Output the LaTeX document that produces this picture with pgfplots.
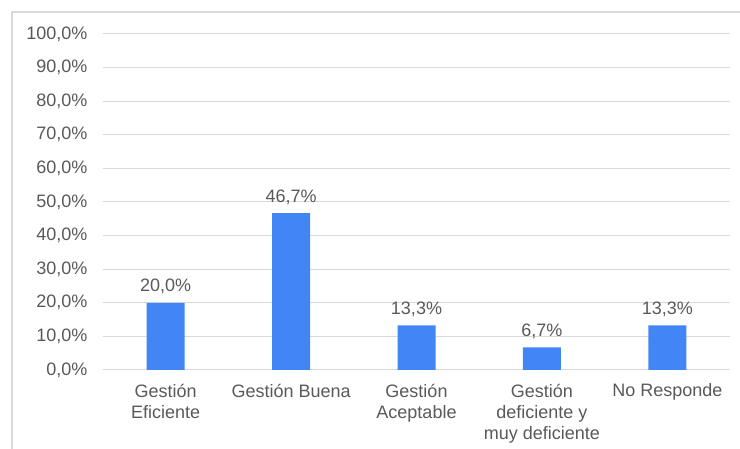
\documentclass[border=0pt]{standalone}
\usepackage{pgfplots}
\pgfplotsset{compat=1.18}
\usepackage{fontspec}
\setmainfont{Liberation Sans}
\definecolor{barblue}{HTML}{4285F4}
\definecolor{txtgray}{HTML}{595959}
\definecolor{gridgray}{HTML}{D9D9D9}
\begin{document}
\begin{tikzpicture}[x=1pt,y=1pt]
\path[use as bounding box] (0,0) rectangle (740,449);
\draw[gridgray, line width=1.5pt] (12,0) -- (12,437) -- (740,437);
\begin{axis}[
  at={(103pt,79pt)}, anchor=south west,
  scale only axis,
  width=627pt, height=336pt,
  xmin=-0.5, xmax=4.5,
  ymin=0, ymax=100,
  ytick={0,10,...,100},
  xtick={0,1,2,3,4},
  xticklabels={{Gestión\\Eficiente},{Gestión Buena},{Gestión\\Aceptable},{Gestión\\deficiente y\\muy deficiente},{No Responde}},
  axis line style={draw=none},
  major tick style={draw=none},
  ymajorgrids,
  grid style={gridgray, line width=1pt},
  /pgf/number format/assume math mode=true,
  yticklabel={\pgfmathprintnumber[fixed,fixed zerofill,precision=1,use comma]{\tick}\%},
  yticklabel style={font=\fontsize{18}{21}\selectfont, text=txtgray, xshift=-12pt},
  xticklabel style={font=\fontsize{18}{21}\selectfont, text=txtgray, align=center, text depth=0pt, yshift=-6pt},
  ybar, bar width=38pt,
  nodes near coords={\pgfmathprintnumber[fixed,fixed zerofill,precision=1,use comma]{\pgfplotspointmeta}\%},
  nodes near coords style={font=\fontsize{18}{21}\selectfont, text=txtgray, yshift=5pt},
]
\addplot[fill=barblue, draw=none] coordinates {(0,20.0) (1,46.7) (2,13.3) (3,6.7) (4,13.3)};
\end{axis}
\end{tikzpicture}
\end{document}
